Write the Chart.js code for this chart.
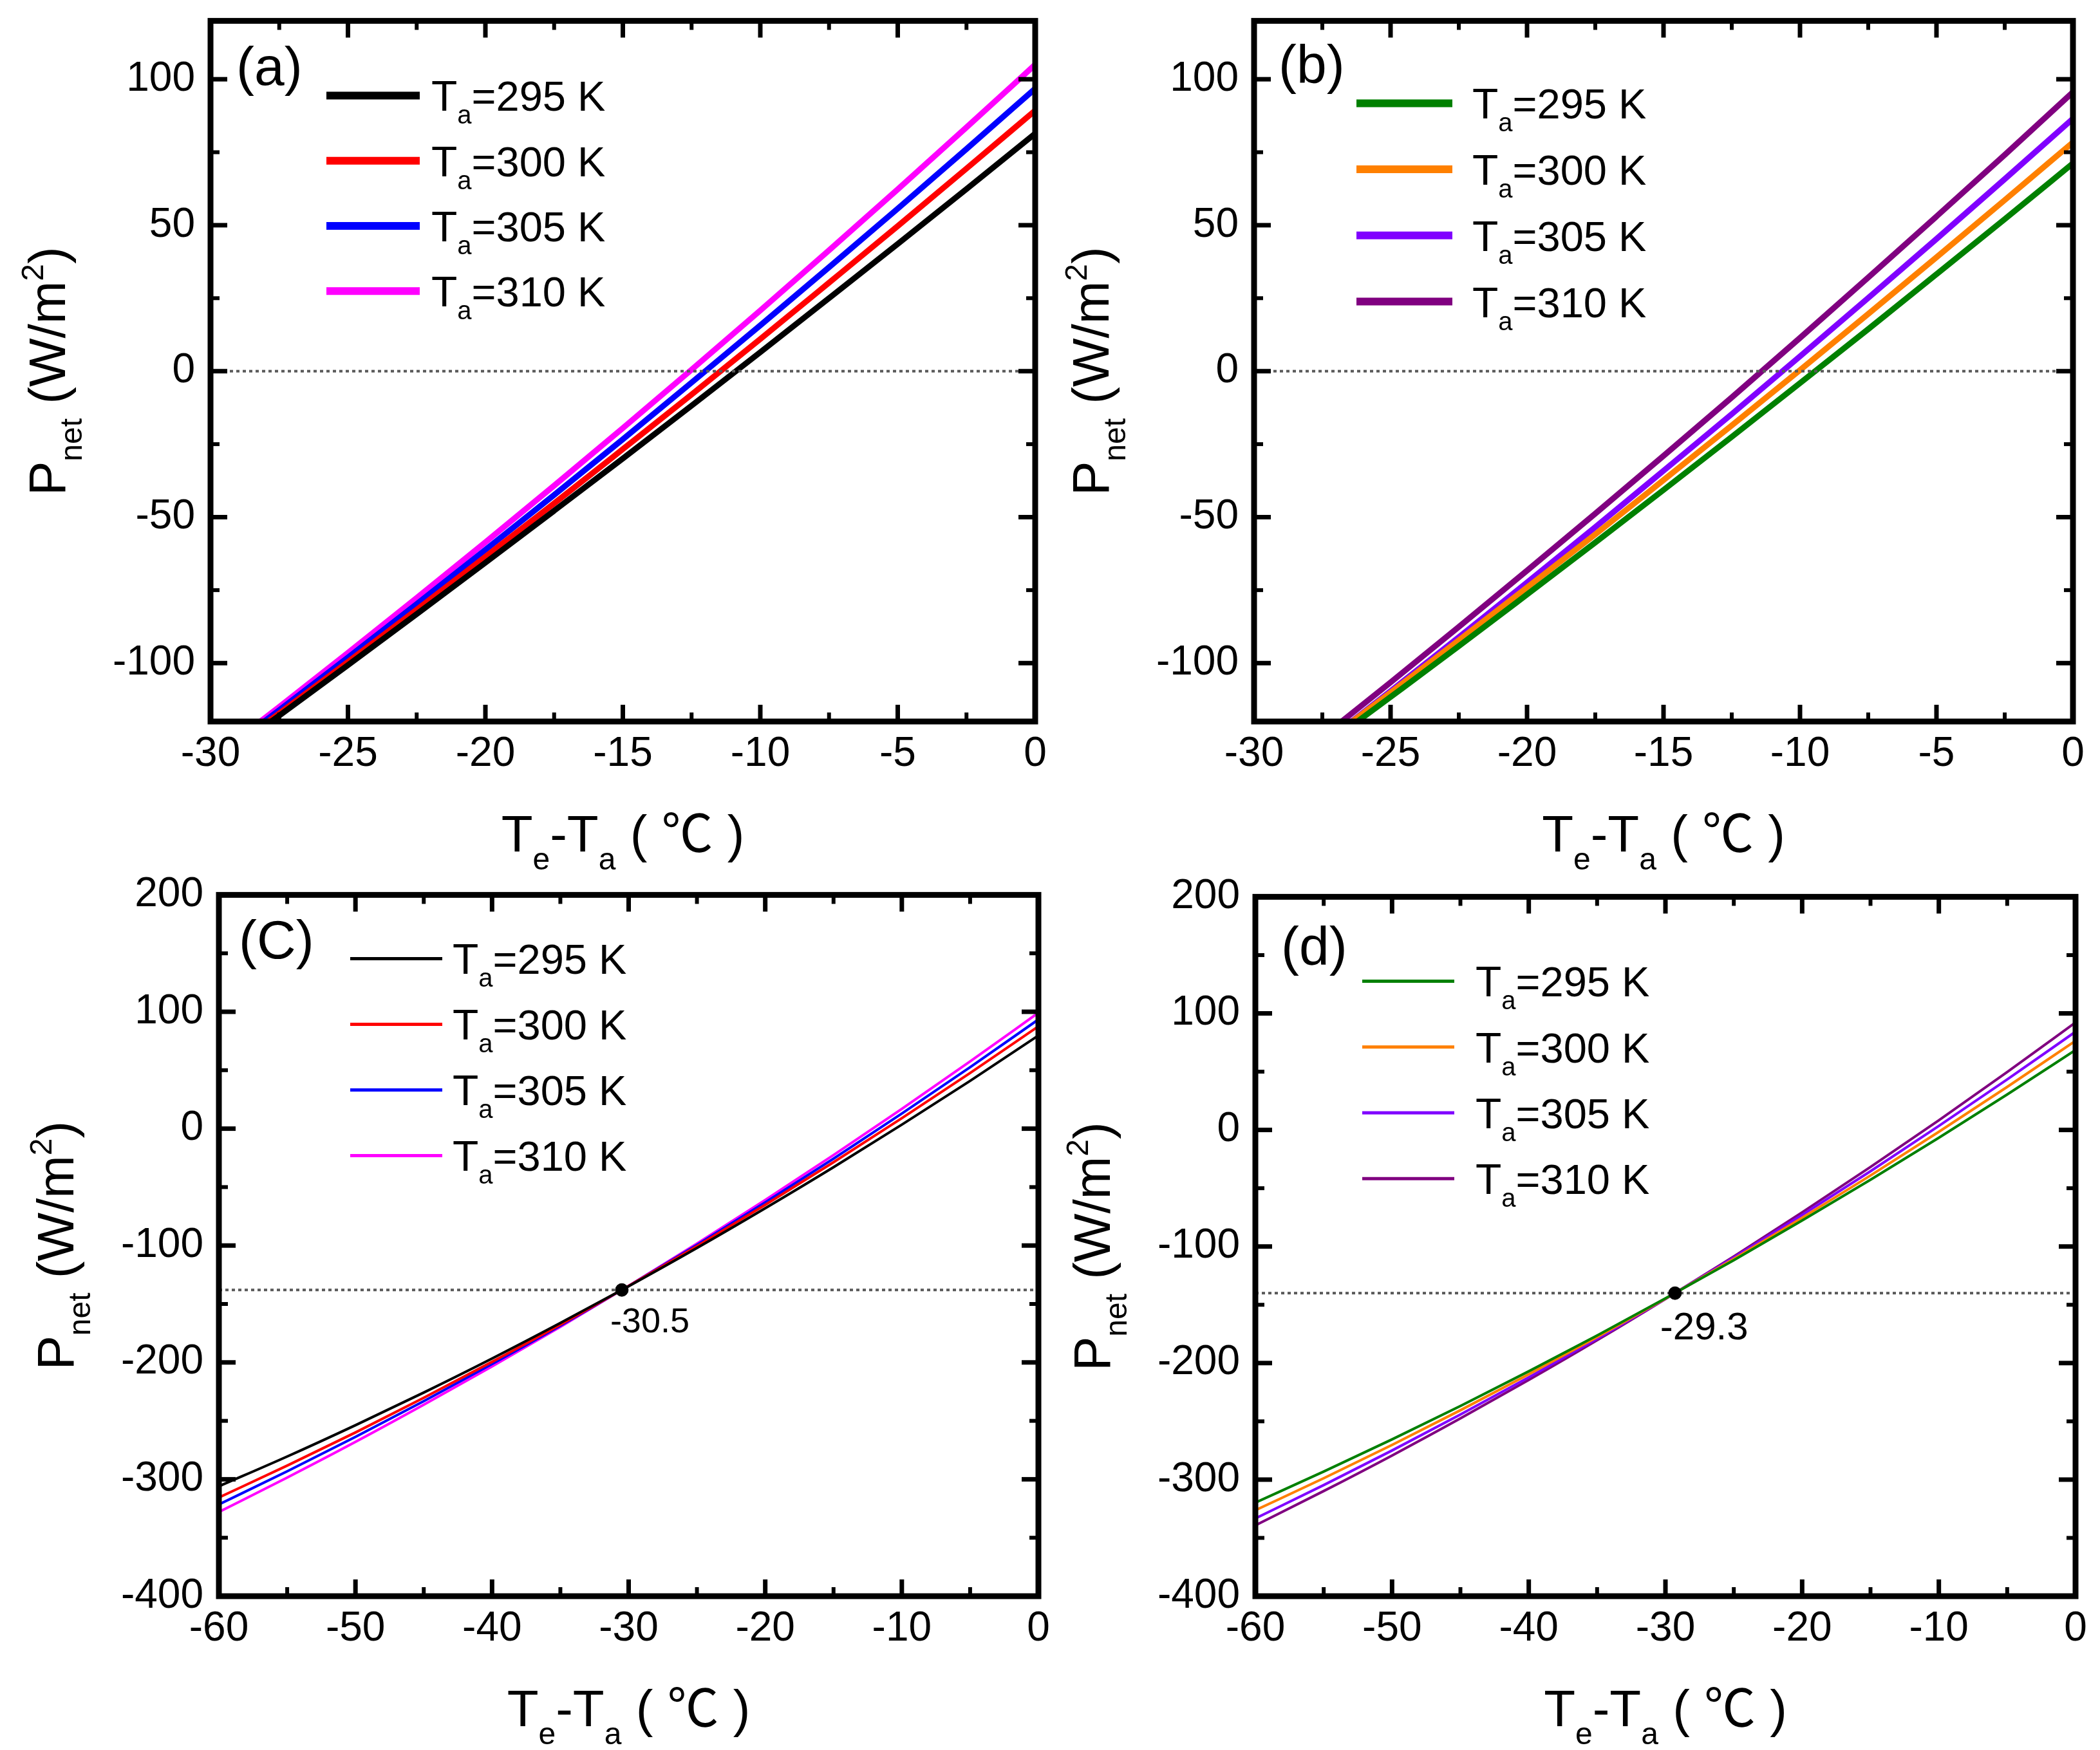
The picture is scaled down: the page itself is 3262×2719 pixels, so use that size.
<!DOCTYPE html>
<html lang="en">
<head>
<meta charset="UTF-8">
<title>Pnet vs Te-Ta</title>
<style>
    html, body {
        margin: 0;
        padding: 0;
        background: #fff;
    }
    body {
        width: 3262px;
        height: 2719px;
        position: relative;
        overflow: hidden;
    }
    canvas {
        position: absolute;
    }
</style>
</head>
<body>
<canvas id="chart-a"></canvas>
<canvas id="chart-b"></canvas>
<canvas id="chart-c"></canvas>
<canvas id="chart-d"></canvas>

<script src="https://cdn.jsdelivr.net/npm/chart.js"></script>
<script>
// ---- data ----
const tempLabels = ['295', '300', '305', '310'];

// panels (a) and (b): Te-Ta from -30 to 0
const xTop = [-30, -27.5, -25, -22.5, -20, -17.5, -15, -12.5, -10, -7.5, -5, -2.5, 0];
const a295 = [-135.0, -118.0, -100.7, -83.2, -65.6, -47.8, -29.9, -11.8, 6.5, 25.0, 43.6, 62.4, 81.4];
const a300 = [-134.6, -117.2, -99.6, -81.7, -63.6, -45.3, -26.7, -8.0, 11.0, 30.3, 49.7, 69.4, 89.3];
const a305 = [-133.9, -116.1, -98.1, -79.8, -61.2, -42.4, -23.3, -3.9, 15.7, 35.6, 55.7, 76.1, 96.8];
const a310 = [-133.2, -115.0, -96.5, -77.7, -58.6, -39.2, -19.5, 0.5, 20.8, 41.4, 62.3, 83.5, 105.0];

const b295 = [-146.1, -128.9, -111.6, -94.2, -76.5, -58.7, -40.7, -22.5, -4.1, 14.4, 33.2, 52.1, 71.2];
const b300 = [-145.2, -127.7, -110.1, -92.2, -74.1, -55.9, -37.3, -18.6, 0.4, 19.6, 39.0, 58.6, 78.4];
const b305 = [-145.8, -127.8, -109.6, -91.1, -72.4, -53.4, -34.1, -14.7, 5.1, 25.1, 45.3, 65.8, 86.5];
const b310 = [-143.7, -125.3, -106.6, -87.6, -68.3, -48.8, -29.0, -9.0, 11.4, 32.1, 53.0, 74.1, 95.6];

// panels (c) and (d): Te-Ta from -60 to 0
const xBottom = [-60, -55, -50, -45, -40, -35, -30, -25, -20, -15, -10, -5, 0];
const c295 = [-306.0, -280.5, -253.7, -225.8, -196.7, -166.3, -134.8, -102.1, -68.1, -33.0, 3.4, 40.9, 79.7];
const c300 = [-315.6, -288.3, -259.9, -230.3, -199.5, -167.7, -134.6, -100.5, -65.2, -28.7, 8.9, 47.6, 87.5];
const c305 = [-321.5, -293.2, -263.7, -233.1, -201.4, -168.6, -134.5, -99.4, -63.1, -25.7, 12.9, 52.6, 93.4];
const c310 = [-328.0, -298.5, -268.0, -236.2, -203.4, -169.5, -134.5, -98.3, -61.0, -22.6, 16.9, 57.5, 99.2];

const d295 = [-319.7, -293.1, -265.5, -236.8, -207.1, -176.4, -144.5, -111.7, -77.7, -42.7, -6.7, 30.4, 68.6];
const d300 = [-326.3, -298.8, -270.2, -240.5, -209.6, -177.7, -144.7, -110.6, -75.4, -39.1, -1.6, 36.9, 76.5];
const d305 = [-333.3, -304.7, -275.0, -244.2, -212.2, -179.1, -144.9, -109.5, -73.0, -35.4, 3.4, 43.3, 84.3];
const d310 = [-339.2, -309.8, -279.3, -247.5, -214.5, -180.4, -145.0, -108.5, -70.7, -31.8, 8.3, 49.7, 92.2];

// reference lines and marked crossing points
const refLineTop = 0;
const refLineC = -138;
const refLineD = -140;
const crossC = [-30.5, -138];
const crossD = [-29.3, -140];

// ticks
const xTicksTop = [-30, -25, -20, -15, -10, -5, 0];
const xMinorTop = [-27.5, -22.5, -17.5, -12.5, -7.5, -2.5];
const yTicksTop = [-100, -50, 0, 50, 100];
const yMinorTop = [-75, -25, 25, 75];
const xTicksBottom = [-60, -50, -40, -30, -20, -10, 0];
const xMinorBottom = [-55, -45, -35, -25, -15, -5];
const yTicksBottom = [-400, -300, -200, -100, 0, 100, 200];
const yMinorBottom = [-350, -250, -150, -50, 50, 150];

// ---- look ----
const FONT = "'Liberation Sans', Arial, 'Noto Sans CJK SC', sans-serif";
const colorsA = ['#000000', '#ff0000', '#0000ff', '#ff00ff'];
const colorsB = ['#008000', '#ff8000', '#8000ff', '#800080'];

// canvas padding round the plot area
const PAD_L = 320, PAD_T = 60, PAD_R = 60, PAD_B = 260;

function toPoints(xs, ys) {
    return xs.map((x, i) => ({ x: x, y: ys[i] }));
}

// draw text made of runs (for sub/superscripts)
function drawRuns(ctx, runs, x, y, align) {
    let total = 0;
    runs.forEach(r => {
        ctx.font = r.size + 'px ' + FONT;
        r.w = ctx.measureText(r.t).width;
        total += r.w;
    });
    let cx = align === 'center' ? x - total / 2 : x;
    runs.forEach(r => {
        ctx.font = r.size + 'px ' + FONT;
        ctx.fillText(r.t, cx, y + (r.dy || 0));
        cx += r.w;
    });
}

const decor = {
    id: 'decor',
    afterDatasetsDraw(chart, args, o) {
        const ctx = chart.ctx;
        const a = chart.chartArea;
        const xs = chart.scales.x, ys = chart.scales.y;
        ctx.save();
        ctx.fillStyle = '#000';
        ctx.strokeStyle = '#000';
        ctx.textAlign = 'left';
        ctx.textBaseline = 'alphabetic';

        // frame
        ctx.lineWidth = 9;
        ctx.strokeRect(a.left, a.top, a.right - a.left, a.bottom - a.top);

        // inward ticks on all four sides
        const line = (x1, y1, x2, y2) => {
            ctx.beginPath();
            ctx.moveTo(x1, y1);
            ctx.lineTo(x2, y2);
            ctx.stroke();
        };
        ctx.lineWidth = 7;
        o.xMajor.forEach(v => {
            const p = xs.getPixelForValue(v);
            line(p, a.bottom, p, a.bottom - 26);
            line(p, a.top, p, a.top + 26);
        });
        o.yMajor.forEach(v => {
            const p = ys.getPixelForValue(v);
            line(a.left, p, a.left + 26, p);
            line(a.right, p, a.right - 26, p);
        });
        ctx.lineWidth = 6;
        o.xMinor.forEach(v => {
            const p = xs.getPixelForValue(v);
            line(p, a.bottom, p, a.bottom - 14);
            line(p, a.top, p, a.top + 14);
        });
        o.yMinor.forEach(v => {
            const p = ys.getPixelForValue(v);
            line(a.left, p, a.left + 14, p);
            line(a.right, p, a.right - 14, p);
        });

        // panel label
        drawRuns(ctx, [{ t: o.label, size: 84 }], a.left + o.labelPos[0], a.top + o.labelPos[1]);

        // legend
        const lg = o.legend;
        chart.data.datasets.forEach((ds, i) => {
            if (ds.legendText === undefined) return;
            const yy = a.top + lg.first + lg.step * i;
            ctx.strokeStyle = ds.borderColor;
            ctx.lineWidth = lg.lw;
            line(a.left + lg.x1, yy, a.left + lg.x2, yy);
            drawRuns(ctx, [
                { t: 'T', size: 66 },
                { t: 'a', size: 40, dy: 20 },
                { t: '=' + ds.legendText + ' K', size: 65 }
            ], a.left + lg.tx, yy + 24);
        });

        // crossing point annotation
        if (o.cross) {
            const px = xs.getPixelForValue(o.cross.x);
            const py = ys.getPixelForValue(o.cross.y);
            drawRuns(ctx, [{ t: o.cross.text, size: o.cross.size }], px + o.cross.dx, py + o.cross.dy);
        }

        // axis titles
        drawRuns(ctx, [
            { t: 'T', size: 80 },
            { t: 'e', size: 48, dy: 28 },
            { t: '-T', size: 80 },
            { t: 'a', size: 48, dy: 28 },
            { t: ' ( \u2103 )', size: 80 }
        ], (a.left + a.right) / 2, a.bottom + 202, 'center');

        ctx.translate(a.left - 226, (a.top + a.bottom) / 2);
        ctx.rotate(-Math.PI / 2);
        drawRuns(ctx, [
            { t: 'P', size: 80 },
            { t: 'net', size: 48, dy: 26 },
            { t: ' (W/m', size: 80 },
            { t: '2', size: 48, dy: -34 },
            { t: ')', size: 80 }
        ], 0, 0, 'center');

        ctx.restore();
    }
};

function makePanel(p) {
    const canvas = document.getElementById(p.canvas);
    const [L, T, R, B] = p.rect;
    const w = (R - L) + PAD_L + PAD_R;
    const h = (B - T) + PAD_T + PAD_B;
    canvas.width = w;
    canvas.height = h;
    canvas.style.width = w + 'px';
    canvas.style.height = h + 'px';
    canvas.style.left = (L - PAD_L) + 'px';
    canvas.style.top = (T - PAD_T) + 'px';

    const datasets = p.series.map((ys, i) => ({
        label: 'Ta=' + tempLabels[i] + ' K',
        legendText: tempLabels[i],
        data: toPoints(p.xs, ys),
        borderColor: p.colors[i],
        borderWidth: p.lineWidth,
        pointRadius: 0,
        cubicInterpolationMode: 'monotone',
        clip: 0,
        order: 2
    }));
    datasets.push({
        label: 'ref',
        data: [{ x: p.xRange[0], y: p.refLine }, { x: p.xRange[1], y: p.refLine }],
        borderColor: '#5a5a5a',
        borderWidth: 4,
        borderDash: [5, 5],
        pointRadius: 0,
        clip: 0,
        order: 1
    });
    if (p.cross) {
        datasets.push({
            type: 'scatter',
            label: 'cross',
            data: [{ x: p.cross.x, y: p.cross.y }],
            backgroundColor: '#000',
            borderColor: '#000',
            pointRadius: 10,
            order: 0
        });
    }

    return new Chart(canvas, {
        type: 'line',
        data: { datasets: datasets },
        options: {
            responsive: false,
            animation: false,
            devicePixelRatio: 1,
            layout: { padding: { left: 0, top: PAD_T, right: PAD_R, bottom: 0 } },
            plugins: {
                legend: { display: false },
                tooltip: { enabled: false },
                decor: {
                    label: p.label,
                    labelPos: p.labelPos,
                    legend: p.legend,
                    cross: p.cross,
                    xMajor: p.xTicks,
                    xMinor: p.xMinor,
                    yMajor: p.yTicks,
                    yMinor: p.yMinor
                }
            },
            scales: {
                x: {
                    type: 'linear',
                    min: p.xRange[0],
                    max: p.xRange[1],
                    grid: { display: false, drawTicks: false },
                    border: { display: false },
                    afterBuildTicks: s => { s.ticks = p.xTicks.map(v => ({ value: v })); },
                    afterFit: s => { s.height = PAD_B; },
                    ticks: {
                        padding: 13,
                        color: '#000',
                        font: { family: FONT, size: 64 },
                        maxRotation: 0,
                        autoSkip: false,
                        callback: v => String(v)
                    }
                },
                y: {
                    type: 'linear',
                    min: p.yRange[0],
                    max: p.yRange[1],
                    grid: { display: false, drawTicks: false },
                    border: { display: false },
                    afterBuildTicks: s => { s.ticks = p.yTicks.map(v => ({ value: v })); },
                    afterFit: s => { s.width = PAD_L; },
                    ticks: {
                        padding: 24,
                        color: '#000',
                        font: { family: FONT, size: 64 },
                        autoSkip: false,
                        callback: v => String(v)
                    }
                }
            }
        },
        plugins: [decor]
    });
}

makePanel({
    canvas: 'chart-a', rect: [327, 30, 1608, 1121],
    xs: xTop, series: [a295, a300, a305, a310], colors: colorsA, lineWidth: 9,
    xRange: [-30, 0], yRange: [-120, 120], refLine: refLineTop,
    xTicks: xTicksTop, xMinor: xMinorTop, yTicks: yTicksTop, yMinor: yMinorTop,
    label: '(a)', labelPos: [40, 100],
    legend: { first: 116, step: 101.3, x1: 180, x2: 325, tx: 343, lw: 12 }
});

makePanel({
    canvas: 'chart-b', rect: [1948, 30, 3220, 1121],
    xs: xTop, series: [b295, b300, b305, b310], colors: colorsB, lineWidth: 9,
    xRange: [-30, 0], yRange: [-120, 120], refLine: refLineTop,
    xTicks: xTicksTop, xMinor: xMinorTop, yTicks: yTicksTop, yMinor: yMinorTop,
    label: '(b)', labelPos: [38, 97],
    legend: { first: 128, step: 102.7, x1: 159, x2: 308, tx: 339, lw: 12 }
});

makePanel({
    canvas: 'chart-c', rect: [340, 1388, 1613, 2480],
    xs: xBottom, series: [c295, c300, c305, c310], colors: colorsA, lineWidth: 4,
    xRange: [-60, 0], yRange: [-400, 200], refLine: refLineC,
    xTicks: xTicksBottom, xMinor: xMinorBottom, yTicks: yTicksBottom, yMinor: yMinorBottom,
    label: '(C)', labelPos: [31, 99],
    legend: { first: 99, step: 102, x1: 204, x2: 347, tx: 363, lw: 5 },
    cross: { x: crossC[0], y: crossC[1], text: '-30.5', size: 54, dx: -18, dy: 66 }
});

makePanel({
    canvas: 'chart-d', rect: [1950, 1391, 3224, 2480],
    xs: xBottom, series: [d295, d300, d305, d310], colors: colorsB, lineWidth: 4,
    xRange: [-60, 0], yRange: [-400, 200], refLine: refLineD,
    xTicks: xTicksBottom, xMinor: xMinorBottom, yTicks: yTicksBottom, yMinor: yMinorBottom,
    label: '(d)', labelPos: [40, 106],
    legend: { first: 131, step: 102.3, x1: 166, x2: 309, tx: 342, lw: 5 },
    cross: { x: crossD[0], y: crossD[1], text: '-29.3', size: 60, dx: -23, dy: 72 }
});
</script>
</body>
</html>
